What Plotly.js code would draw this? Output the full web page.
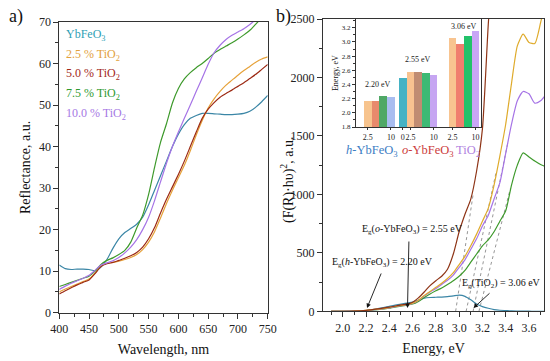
<!DOCTYPE html>
<html><head><meta charset="utf-8">
<script src="https://cdn.plot.ly/plotly-3.0.1.min.js"></script>
<style>html,body{margin:0;padding:0;background:#fff}#chart{width:550px;height:361px}</style>
</head><body><div id="chart"></div>
<script>
// ---------- panel a: reflectance ----------
const wavelength = [400,410,420,430,440,450,460,470,480,490,500,510,520,530,540,550,560,570,580,590,600,610,620,630,640,650,660,670,680,690,700,710,720,730,740,750];
const reflYbFeO3 = [11.5,10.6,10.4,10.5,10.5,10.4,10.1,11.0,12.8,15.5,17.8,19.3,20.3,21.3,23.0,26.0,29.5,33.0,36.5,40.0,43.0,45.3,46.8,47.5,48.0,48.0,47.9,47.8,47.7,47.7,47.8,48.0,48.5,49.5,50.8,52.3];
const refl25 = [5.0,5.7,6.3,6.9,7.5,8.1,9.6,11.3,11.9,12.1,12.4,12.8,13.3,14.0,15.2,17.0,19.5,22.8,26.3,29.5,32.5,35.5,39.0,42.8,46.3,49.3,51.5,53.3,54.8,56.0,57.2,58.3,59.3,60.3,61.1,61.6];
const refl50 = [4.5,5.3,6.0,6.7,7.3,7.9,9.4,11.1,11.8,12.1,12.6,13.1,13.7,14.5,15.8,17.8,20.5,24.0,27.3,30.3,33.3,36.5,40.0,43.5,46.8,49.0,50.6,51.9,52.8,53.6,54.5,55.4,56.4,57.4,58.6,59.8];
const refl75 = [6.3,6.8,7.3,7.8,8.3,8.8,10.0,11.6,12.6,13.2,14.0,15.0,17.0,20.4,23.5,28.5,35.0,41.0,45.5,50.5,54.0,56.3,57.8,59.0,60.0,61.2,62.5,63.4,64.2,65.0,65.9,66.9,68.0,69.5,71.0,72.5];
const refl100 = [5.6,6.4,7.1,7.7,8.3,9.0,10.2,11.5,12.0,12.5,13.3,14.4,15.8,17.6,20.0,23.0,27.0,31.5,36.0,40.0,43.5,46.8,50.0,53.3,56.5,59.8,62.6,64.4,65.8,66.8,67.6,68.4,69.4,70.6,71.8,73.0];
const legendLabels = ['YbFeO<sub>3</sub>','2.5 % TiO<sub>2</sub>','5.0 % TiO<sub>2</sub>','7.5 % TiO<sub>2</sub>','10.0 % TiO<sub>2</sub>'];

// ---------- panel b: Tauc plot ----------
const energy = [1.9,2.0,2.1,2.2,2.3,2.4,2.5,2.55,2.6,2.65,2.7,2.75,2.8,2.85,2.9,2.95,3.0,3.05,3.1,3.15,3.2,3.25,3.3,3.35,3.4,3.45,3.5,3.55,3.6,3.65,3.7,3.75];
const taucYbFeO3 = [0,0,1,5,22,42,62,70,78,95,112,118,120,122,126,132,138,128,98,62,40,26,15,9,6,3,2,1,1,0,0,0];
const tauc50 = [0,0,2,8,20,35,55,62,78,115,165,220,262,300,360,490,680,830,960,1200,1560,2450,3200,3800,4300,4800,5300,5800,6300,6800,7300,7800];
const tauc25 = [0,0,2,8,18,32,50,58,70,95,135,170,205,240,280,330,400,470,560,660,770,880,1080,1330,1600,1950,2270,2370,2300,2290,2470,2700];
const tauc100 = [0,0,2,7,16,29,48,56,68,92,130,165,195,230,265,310,375,440,530,620,730,820,960,1100,1350,1600,1800,1880,1860,1780,1800,1860];
const tauc75 = [0,0,2,6,14,26,45,52,62,85,118,148,175,200,230,262,300,350,420,490,560,610,680,770,860,1080,1250,1355,1320,1285,1255,1235];
// tangent (extrapolation) lines: start energy at zero, end point
const tangentStartE = [2.97,3.06,3.12,3.17];
const tangentEndE = [3.12,3.32,3.42,3.44];
const tangentEndF = [1000,1200,1450,1050];

// ---------- inset: band gaps ----------
const groupNames = ['<i>h</i>-YbFeO<sub>3</sub>','<i>o</i>-YbFeO<sub>3</sub>','TiO<sub>2</sub>'];
const hContent = ['2.5','5.0','7.5','10'];
const hGap = [2.16,2.17,2.24,2.22];
const oContent = ['0','2.5','5.0','7.5','10'];
const oGap = [2.49,2.57,2.575,2.56,2.54];
const tContent = ['2.5','5.0','7.5','10'];
const tGap = [3.05,2.97,3.09,3.15];
const gapLabels = ['2.20 eV','2.55 eV','3.06 eV'];

// ---------- styles ----------
const FONT = 'Liberation Serif';
const cTeal = '#3b86a6', cOrange = '#e6a23a', cBrown = '#9c2a14', cGreen = '#3e9a2c', cPurple = '#a674e6';
const legendColors = ['#2f9fb5','#e2a13c','#a3281a','#2f9a2f','#a678e4'];
const W = 550, H = 361;
const px = v => v / W, py = v => 1 - v / H;

const slotOf = {'0':0,'2.5':1,'5.0':2,'7.5':3,'10':4};
const groupOffset = [0, 5.55, 11];
const pos = (g, c) => groupOffset[g] + slotOf[c];

const traces = [];
const lineA = (y, color) => ({x: wavelength, y: y, type: 'scatter', mode: 'lines', line: {color: color, width: 1.2, shape: 'spline', smoothing: 0.6}, xaxis: 'x', yaxis: 'y', hoverinfo: 'skip', showlegend: false});
traces.push(lineA(reflYbFeO3, cTeal), lineA(refl25, cOrange), lineA(refl50, cBrown), lineA(refl75, cGreen), lineA(refl100, cPurple));

const lineB = (y, color) => ({x: energy, y: y, type: 'scatter', mode: 'lines', line: {color: color, width: 1.2, shape: 'spline', smoothing: 0.6}, xaxis: 'x2', yaxis: 'y2', hoverinfo: 'skip', showlegend: false});
tangentStartE.forEach((e0, i) => {
  traces.push({x: [e0, tangentEndE[i]], y: [0, tangentEndF[i]], type: 'scatter', mode: 'lines', line: {color: '#8a8a8a', width: 0.9, dash: 'dot'}, xaxis: 'x2', yaxis: 'y2', hoverinfo: 'skip', showlegend: false});
});
traces.push(lineB(taucYbFeO3, cTeal), lineB(tauc75, cGreen), lineB(tauc100, cPurple), lineB(tauc25, '#dfab2c'), lineB(tauc50, '#8e3416'));

const bar = (g, contents, vals, colors) => ({x: contents.map(c => pos(g, c)), y: vals, type: 'bar', width: 1, marker: {color: colors, line: {width: 0}}, xaxis: 'x3', yaxis: 'y3', hoverinfo: 'skip', showlegend: false});
traces.push(bar(0, hContent, hGap, ['#f7c48e','#e88a6c','#4fa866','#a9bdf0']));
traces.push(bar(1, oContent, oGap, ['#45b2c4','#f8c290','#c08c72','#3dba74','#c6a6f2']));
traces.push(bar(2, tContent, tGap, ['#f8c490','#f07e6e','#22c26a','#c9a6f6']));

const ann = [];
const txt = (t, x, y, size, color, extra) => Object.assign({text: t, x: px(x), y: py(y), xref: 'paper', yref: 'paper', showarrow: false, font: {family: FONT, size: size, color: color}, xanchor: 'center', yanchor: 'middle'}, extra || {});
ann.push(txt('a)', 16, 16, 18, '#111'));
ann.push(txt('b)', 283, 16, 18, '#111'));
const legY = [35, 54.5, 74, 93.5, 114.5];
legendLabels.forEach((l, i) => ann.push(txt(l, 64, legY[i], 12, legendColors[i], {xanchor: 'left'})));
ann.push(txt('(F(R)·hυ)<sup>2</sup>, a.u.', 287, 180, 14, '#111', {textangle: -90}));
// inset labels
ann.push(txt(gapLabels[0], 378, 85, 8, '#222'));
ann.push(txt(gapLabels[1], 418, 60, 8, '#222'));
ann.push(txt(gapLabels[2], 464, 26.5, 8, '#222'));
ann.push(txt(groupNames[0], 372, 150.5, 12.5, '#3c7dc4'));
ann.push(txt(groupNames[1], 428, 150.5, 12.5, '#cc3c3c'));
ann.push(txt(groupNames[2], 467.5, 150.5, 12.5, '#b07fe0'));
// band gap labels and arrows
ann.push(txt('E<sub>g</sub>(<i>o</i>-YbFeO<sub>3</sub>) = 2.55 eV', 412.5, 229, 10, '#111'));
ann.push(txt('E<sub>g</sub>(<i>h</i>-YbFeO<sub>3</sub>) = 2.20 eV', 382, 262, 10, '#111'));
ann.push(txt('E<sub>g</sub>(TiO<sub>2</sub>) = 3.06 eV', 501.7, 283, 10, '#111'));
const arrow = (hx, hy, tx, ty) => ({text: ' ', x: px(hx), y: py(hy), xref: 'paper', yref: 'paper', showarrow: true, ax: tx - hx, ay: ty - hy, arrowhead: 2, arrowsize: 1, arrowwidth: 0.9, arrowcolor: '#111', standoff: 0, startstandoff: 0, font: {family: FONT, size: 6}});
ann.push(arrow(407.5, 308, 409, 237));
ann.push(arrow(367, 308, 383, 269));
ann.push(arrow(473.5, 308, 492, 291));

const axBase = {showline: true, mirror: true, linecolor: '#333', linewidth: 1, ticks: 'outside', ticklen: 5, tickcolor: '#333', showgrid: false, zeroline: false, tickangle: 0, tickfont: {family: FONT, size: 12, color: '#222'}};

const layout = {
  width: W, height: H, margin: {l: 0, r: 0, t: 0, b: 0}, paper_bgcolor: '#fff', plot_bgcolor: '#fff',
  font: {family: FONT, color: '#222'}, showlegend: false,
  xaxis: Object.assign({}, axBase, {domain: [px(59.3), px(267.7)], range: [400, 750], tick0: 400, dtick: 50, anchor: 'y',
    minor: {dtick: 25, ticks: 'outside', ticklen: 3, tickcolor: '#333'},
    title: {text: 'Wavelength, nm', font: {family: FONT, size: 14, color: '#111'}, standoff: 9}}),
  yaxis: Object.assign({}, axBase, {domain: [py(312.7), py(22)], range: [0, 70], dtick: 10, anchor: 'x',
    minor: {dtick: 5, ticks: 'outside', ticklen: 3, tickcolor: '#333'},
    title: {text: 'Reflectance, a.u.', font: {family: FONT, size: 14, color: '#111'}, standoff: 4}}),
  xaxis2: Object.assign({}, axBase, {domain: [px(323), px(544.3)], range: [1.8305, 3.7316], tick0: 2.0, dtick: 0.2, tickformat: '.1f', anchor: 'y2',
    minor: {dtick: 0.1, ticks: 'outside', ticklen: 3, tickcolor: '#333'},
    title: {text: 'Energy, eV', font: {family: FONT, size: 14, color: '#111'}, standoff: 9}}),
  yaxis2: Object.assign({}, axBase, {domain: [py(311.3), py(19)], range: [0, 2500], dtick: 500, anchor: 'x2',
    minor: {dtick: 250, ticks: 'outside', ticklen: 3, tickcolor: '#333'}}),
  xaxis3: Object.assign({}, axBase, {domain: [px(356), px(480.7)], range: [-0.53, 15.66], anchor: 'y3',
    tickvals: [pos(0,'2.5'), pos(0,'10'), pos(1,'0'), pos(1,'2.5'), pos(1,'10'), pos(2,'2.5'), pos(2,'10')],
    ticktext: ['2.5','10','0','2.5','10','2.5','10'], ticklen: 2, tickangle: 0, tickfont: {family: FONT, size: 8, color: '#222'}}),
  yaxis3: Object.assign({}, axBase, {domain: [py(127), py(19.3)], range: [1.8, 3.32], dtick: 0.2, tickformat: '.1f', anchor: 'x3', ticklen: 3,
    minor: {dtick: 0.1, ticks: 'outside', ticklen: 2, tickcolor: '#333'},
    tickfont: {family: FONT, size: 7, color: '#222'},
    title: {text: 'Energy, eV', font: {family: FONT, size: 8, color: '#111'}, standoff: 2}}),
  annotations: ann, bargap: 0
};

Plotly.newPlot('chart', traces, layout, {staticPlot: true, displayModeBar: false});
</script>
</body></html>
